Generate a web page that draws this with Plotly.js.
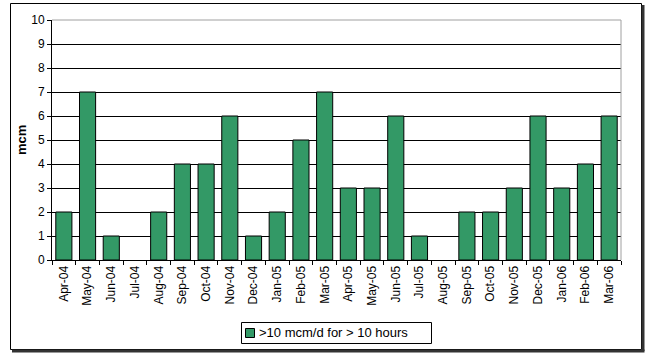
<!DOCTYPE html>
<html>
<head>
<meta charset="utf-8">
<script src="https://cdn.plot.ly/plotly-3.0.1.min.js"></script>
<style>
html,body{margin:0;padding:0;background:#fff;}
#chart{width:645px;height:354px;}
</style>
</head>
<body>
<div id="chart"></div>
<script>
var months = ["Apr-04","May-04","Jun-04","Jul-04","Aug-04","Sep-04","Oct-04","Nov-04","Dec-04","Jan-05","Feb-05","Mar-05","Apr-05","May-05","Jun-05","Jul-05","Aug-05","Sep-05","Oct-05","Nov-05","Dec-05","Jan-06","Feb-06","Mar-06"];
var values = [2,7,1,0,2,4,4,6,1,2,5,7,3,3,6,1,0,2,2,3,6,3,4,6];
var seriesName = ">10 mcm/d for > 10 hours";
var yTicks = [0,1,2,3,4,5,6,7,8,9,10];

var W = 569, H = 240, L = 52, T = 20;
function px(x){ return (x - L) / W; }
function py(y){ return (T + H - y) / H; }

var trace = {
  type: "bar",
  x: months,
  y: values,
  name: seriesName,
  marker: {color: "#339966", line: {color: "#000000", width: values.map(function(v){ return v ? 1 : 0; })}},
  hoverinfo: "x+y"
};

var fam = "Liberation Sans, Arial, sans-serif";

var layout = {
  width: 645,
  height: 354,
  margin: {l: 52, r: 24, t: 20, b: 94, autoexpand: false},
  paper_bgcolor: "#fff",
  plot_bgcolor: "#fff",
  font: {family: fam, size: 12, color: "#000"},
  showlegend: false,
  bargap: 0.32,
  xaxis: {
    type: "category",
    tickangle: -90,
    tickson: "boundaries",
    ticks: "outside",
    ticklen: 4,
    tickcolor: "#000",
    showline: true,
    linecolor: "#000",
    linewidth: 1,
    showgrid: false,
    zeroline: false,
    automargin: false,
    tickfont: {family: fam, size: 12, color: "#000"},
    fixedrange: true
  },
  yaxis: {
    range: [0, 10],
    tickvals: yTicks,
    ticktext: yTicks.map(String),
    ticks: "outside",
    ticklen: 4,
    tickcolor: "#000",
    showline: true,
    linecolor: "#000",
    linewidth: 1,
    showgrid: true,
    gridcolor: "#000",
    gridwidth: 1,
    zeroline: false,
    automargin: false,
    tickfont: {family: fam, size: 12, color: "#000"},
    fixedrange: true
  },
  annotations: [
    {xref: "paper", yref: "paper", x: px(21), y: 0.5, text: "<b>mcm</b>", textangle: -90, showarrow: false,
     font: {family: fam, size: 13, color: "#000"}, xanchor: "center", yanchor: "middle"},
    {xref: "paper", yref: "paper", x: px(257), y: py(332.5), text: seriesName, showarrow: false,
     font: {family: fam, size: 13, color: "#000"}, xanchor: "left", yanchor: "middle"}
  ],
  shapes: [
    {type: "line", xref: "paper", yref: "paper", x0: 0, x1: 1, y0: 1, y1: 1, line: {color: "#a0a0a0", width: 1}},
    {type: "line", xref: "paper", yref: "paper", x0: 1, x1: 1, y0: 0, y1: 1, line: {color: "#a0a0a0", width: 1}},
    {type: "rect", xref: "paper", yref: "paper", x0: px(10.5), x1: px(641.5), y0: py(349.5), y1: py(3.5), line: {color: "#000", width: 1}},
    {type: "line", xref: "paper", yref: "paper", x0: px(643), x1: px(643), y0: py(351), y1: py(5), line: {color: "#333", width: 3}},
    {type: "line", xref: "paper", yref: "paper", x0: px(12), x1: px(644.5), y0: py(351), y1: py(351), line: {color: "#333", width: 3}},
    {type: "rect", xref: "paper", yref: "paper", x0: px(241.5), x1: px(431.5), y0: py(343.5), y1: py(322.5), line: {color: "#000", width: 1}, fillcolor: "#fff", layer: "below"},
    {type: "rect", xref: "paper", yref: "paper", x0: px(245.5), x1: px(254.5), y0: py(337.5), y1: py(328.5), line: {color: "#000", width: 1}, fillcolor: "#339966"}
  ]
};

Plotly.newPlot("chart", [trace], layout, {displayModeBar: false, staticPlot: true});
</script>
</body>
</html>
